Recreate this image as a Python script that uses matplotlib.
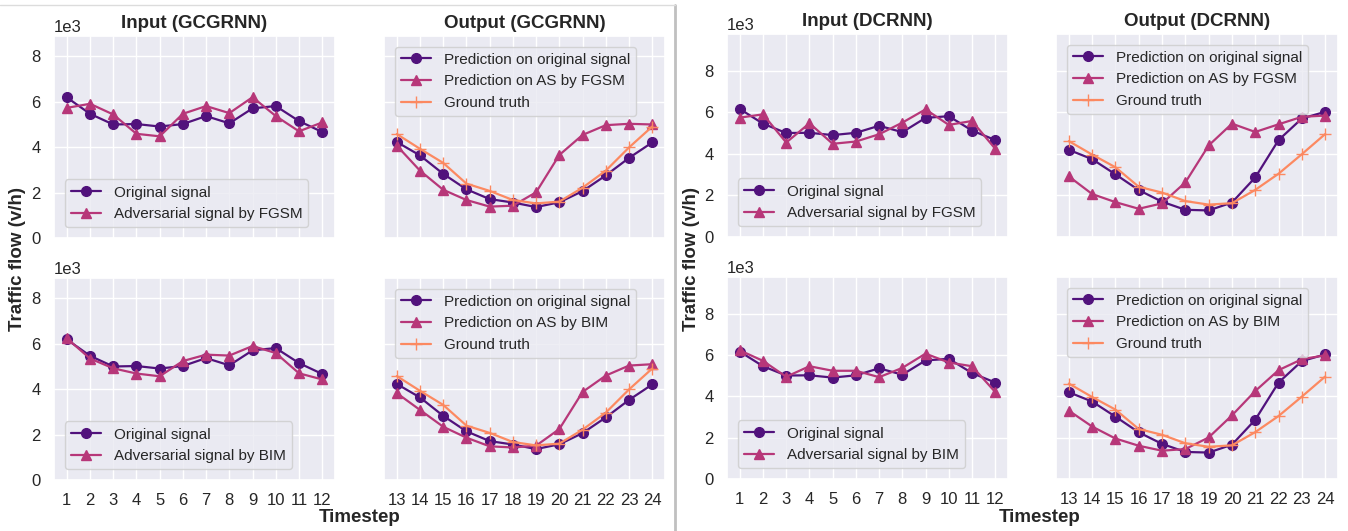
import matplotlib
matplotlib.use("Agg")
import matplotlib.pyplot as plt
import seaborn as sns
import numpy as np
from matplotlib.lines import Line2D
from matplotlib.ticker import MultipleLocator

# timesteps
t_in = list(range(1, 13))
t_out = list(range(13, 25))

# GCGRNN
g_orig_in = [6180, 5460, 4990, 5010, 4900, 5010, 5360, 5040, 5700, 5800, 5140, 4660]
g_fgsm_in = [5720, 5900, 5430, 4580, 4470, 5460, 5800, 5490, 6190, 5360, 4690, 5080]
g_bim_in = [6230, 5340, 4910, 4680, 4560, 5230, 5510, 5470, 5890, 5580, 4690, 4420]
g_pred_orig = [4220, 3630, 2820, 2140, 1710, 1560, 1360, 1570, 2060, 2750, 3520, 4200]
g_pred_fgsm = [4060, 2960, 2120, 1670, 1380, 1420, 2010, 3650, 4530, 4960, 5020, 4990]
g_pred_bim = [3820, 3080, 2340, 1860, 1480, 1430, 1510, 2240, 3870, 4590, 5030, 5090]
g_truth = [4570, 3920, 3300, 2390, 2070, 1670, 1520, 1600, 2210, 2960, 3980, 4900]

# DCRNN
d_orig_in = [6170, 5460, 5010, 5020, 4910, 5020, 5360, 5050, 5740, 5820, 5130, 4670]
d_fgsm_in = [5750, 5910, 4550, 5480, 4490, 4600, 4950, 5510, 6150, 5400, 5590, 4250]
d_bim_in = [6230, 5720, 4950, 5460, 5240, 5240, 4930, 5380, 6070, 5640, 5460, 4210]
d_pred_orig = [4200, 3750, 3020, 2260, 1700, 1310, 1280, 1660, 2870, 4670, 5710, 6030]
d_pred_fgsm = [2920, 2070, 1680, 1360, 1620, 2630, 4410, 5460, 5060, 5430, 5790, 5850]
d_pred_bim = [3310, 2540, 1960, 1610, 1370, 1450, 2010, 3080, 4260, 5270, 5800, 5990]
d_truth = [4620, 3970, 3360, 2420, 2140, 1730, 1560, 1630, 2270, 3050, 3990, 4960]

c_orig = "#51127c"
c_adv = "#b73779"
c_truth = "#fc8961"

sns.set_theme(style="darkgrid")
plt.rcParams["font.family"] = ["Liberation Sans", "DejaVu Sans"]
plt.rcParams["axes.titlesize"] = 13.5
plt.rcParams["xtick.labelsize"] = 12
plt.rcParams["ytick.labelsize"] = 12
plt.rcParams["legend.fontsize"] = 11

W, H = 1348, 531
fig = plt.figure(figsize=(W / 100, H / 100), dpi=100)


def box(x0, x1, y0, y1):
    return [x0 / W, 1 - y1 / H, (x1 - x0) / W, (y1 - y0) / H]


def style(ax, ymax, show_y):
    ax.set_ylim(0, ymax)
    ax.yaxis.set_major_locator(MultipleLocator(2000))
    ax.ticklabel_format(axis="y", style="sci", scilimits=(3, 3))
    ax.yaxis.get_offset_text().set_fontsize(12)
    if not show_y:
        ax.tick_params(axis="y", labelleft=False)
        ax.yaxis.get_offset_text().set_visible(False)


def panel_in(ax, orig, adv, adv_name, ymax, xlab, title=None):
    ax.plot(t_in, orig, color=c_orig, marker="o", ms=7, lw=1.6, label="Original signal")
    ax.plot(t_in, adv, color=c_adv, marker="^", ms=7, lw=1.6, label="Adversarial signal by " + adv_name)
    ax.set_xticks(t_in)
    if not xlab:
        ax.tick_params(axis="x", labelbottom=False)
    style(ax, ymax, True)
    ax.legend(loc="lower left", borderaxespad=0.7)
    if title:
        ax.set_title(title, fontweight="bold", pad=6)


def panel_out(ax, pred, adv, truth, adv_name, ymax, xlab, title=None):
    ax.plot(t_out, pred, color=c_orig, marker="o", ms=7, lw=1.6, label="Prediction on original signal")
    ax.plot(t_out, adv, color=c_adv, marker="^", ms=7, lw=1.6, label="Prediction on AS by " + adv_name)
    ax.plot(t_out, truth, color=c_truth, marker="+", ms=8, lw=1.6, label="Ground truth")
    ax.set_xticks(t_out)
    if not xlab:
        ax.tick_params(axis="x", labelbottom=False)
    style(ax, ymax, False)
    ax.legend(loc="upper left", borderaxespad=0.7)
    if title:
        ax.set_title(title, fontweight="bold", pad=6)


# left figure (GCGRNN)
gy = 8880
a1 = fig.add_axes(box(54, 335, 36, 238))
a2 = fig.add_axes(box(384, 665, 36, 238))
a3 = fig.add_axes(box(54, 335, 278, 480))
a4 = fig.add_axes(box(384, 665, 278, 480))
panel_in(a1, g_orig_in, g_fgsm_in, "FGSM", gy, False, "Input (GCGRNN)")
panel_out(a2, g_pred_orig, g_pred_fgsm, g_truth, "FGSM", gy, False, "Output (GCGRNN)")
panel_in(a3, g_orig_in, g_bim_in, "BIM", gy, True)
panel_out(a4, g_pred_orig, g_pred_bim, g_truth, "BIM", gy, True)

# right figure (DCRNN)
dy = 9780
b1 = fig.add_axes(box(727, 1008, 34, 237))
b2 = fig.add_axes(box(1056, 1338, 34, 237))
b3 = fig.add_axes(box(727, 1008, 277, 479))
b4 = fig.add_axes(box(1056, 1338, 277, 479))
panel_in(b1, d_orig_in, d_fgsm_in, "FGSM", dy, False, "Input (DCRNN)")
panel_out(b2, d_pred_orig, d_pred_fgsm, d_truth, "FGSM", dy, False, "Output (DCRNN)")
panel_in(b3, d_orig_in, d_bim_in, "BIM", dy, True)
panel_out(b4, d_pred_orig, d_pred_bim, d_truth, "BIM", dy, True)

# shared labels
for x in (18, 692):
    fig.text(x / W, 1 - 259 / H, "Traffic flow (v/h)", rotation=90, ha="center", va="center",
             fontsize=13.5, fontweight="bold")
for x in (360, 1040):
    fig.text(x / W, 1 - 517 / H, "Timestep", ha="center", va="center",
             fontsize=13.5, fontweight="bold")

# separator between the two figures
fig.add_artist(Line2D([675 / W, 675 / W], [0, 1 - 5 / H], color="#c0c0c0", lw=2,
                      transform=fig.transFigure))
fig.add_artist(Line2D([0, 675 / W], [1 - 5 / H, 1 - 5 / H], color="#dcdcdc", lw=1,
                      transform=fig.transFigure))

fig.savefig("out.png", dpi=100, facecolor="white")
